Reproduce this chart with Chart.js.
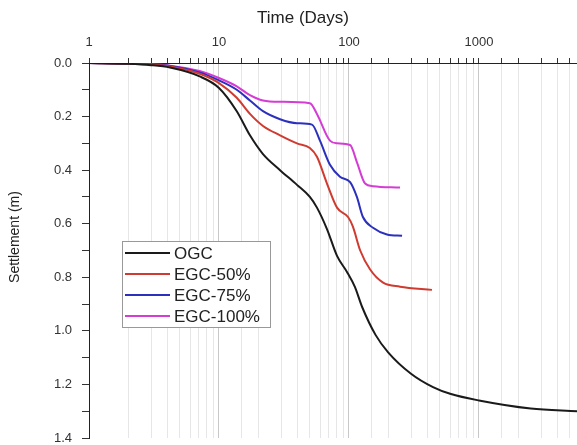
<!DOCTYPE html>
<html>
<head>
<meta charset="utf-8">
<script src="https://cdn.jsdelivr.net/npm/chart.js@4.4.1/dist/chart.umd.min.js"></script>
<style>
  html, body { margin: 0; padding: 0; background: #fff; }
  #wrap { width: 577px; height: 445px; }
</style>
</head>
<body>
<div id="wrap"><canvas id="settleChart" width="577" height="445"></canvas></div>
<script>
// Series (time in days, settlement in m)
const seriesNames = ['OGC', 'EGC-50%', 'EGC-75%', 'EGC-100%'];

const ogcTime   = [1, 2, 3, 4.2, 7.1, 10, 13.7, 17.3, 21.8, 29.5, 39.8, 50, 56.7, 67.7, 80.9, 96.5, 111, 126, 160, 200, 300, 443, 600, 1000, 2500, 5675];
const ogcSettle = [0, 0.003, 0.008, 0.017, 0.05, 0.093, 0.18, 0.27, 0.34, 0.40, 0.455, 0.50, 0.54, 0.62, 0.72, 0.78, 0.836, 0.91, 1.015, 1.08, 1.16, 1.21, 1.235, 1.26, 1.29, 1.30];

const egc50Time   = [1, 2, 3, 4.2, 7.1, 10, 13.7, 17.3, 21.8, 29.5, 39.8, 50, 56.7, 67.7, 80.9, 98.3, 107, 122, 145, 183, 247, 435];
const egc50Settle = [0, 0.002, 0.006, 0.013, 0.04, 0.075, 0.13, 0.19, 0.235, 0.27, 0.30, 0.317, 0.35, 0.45, 0.54, 0.575, 0.61, 0.70, 0.77, 0.82, 0.835, 0.847];

const egc75Time   = [1, 2, 3, 4.2, 7.1, 10, 13.7, 17.3, 21.8, 29.5, 39.8, 51.9, 59.8, 71.4, 85.2, 102, 115, 128, 153, 196, 256];
const egc75Settle = [0, 0.002, 0.005, 0.011, 0.035, 0.065, 0.10, 0.14, 0.18, 0.21, 0.225, 0.23, 0.29, 0.38, 0.425, 0.445, 0.50, 0.575, 0.615, 0.64, 0.645];

const egc100Time   = [1, 2, 3, 4.2, 7.1, 10, 13.7, 17.3, 21.8, 29.5, 50, 56.7, 71.4, 80.9, 102, 115, 133, 153, 247];
const egc100Settle = [0, 0.002, 0.005, 0.01, 0.03, 0.056, 0.087, 0.12, 0.14, 0.145, 0.15, 0.19, 0.29, 0.30, 0.306, 0.37, 0.45, 0.46, 0.465];

const lineColors = ['#1a1a1a', '#cf3b30', '#2b30bd', '#d43cd4'];

const FONT = "'Liberation Sans', Arial, sans-serif";

function pts(t, s) {
    return t.map((v, i) => ({ x: v, y: s[i] }));
}
const allTimes = [ogcTime, egc50Time, egc75Time, egc100Time];
const allSettle = [ogcSettle, egc50Settle, egc75Settle, egc100Settle];

const datasets = seriesNames.map((name, i) => ({
    label: name,
    data: pts(allTimes[i], allSettle[i]),
    borderColor: lineColors[i],
    backgroundColor: lineColors[i],
    borderWidth: 2,
    pointRadius: 0,
    cubicInterpolationMode: 'monotone',
    fill: false
}));

function isDecade(v) {
    const l = Math.log10(v);
    return Math.abs(l - Math.round(l)) < 1e-9;
}

// axis titles and the boxed legend, placed like the reference
const extras = {
    id: 'extras',
    afterDraw(chart) {
        const c = chart.ctx;
        c.save();
        c.fillStyle = '#222';
        c.font = '17px ' + FONT;
        c.textAlign = 'center';
        c.textBaseline = 'middle';
        c.fillText('Time (Days)', 303, 18);

        c.save();
        c.translate(15, 237);
        c.rotate(-Math.PI / 2);
        c.font = '14px ' + FONT;
        c.fillText('Settlement (m)', 0, 0);
        c.restore();

        // legend
        c.fillStyle = '#fff';
        c.fillRect(122, 241, 148, 86);
        c.strokeStyle = '#999';
        c.lineWidth = 1;
        c.strokeRect(122.5, 241.5, 148, 86);
        c.font = '17px ' + FONT;
        c.textAlign = 'left';
        seriesNames.forEach((name, i) => {
            const y = 253 + i * 21;
            c.strokeStyle = lineColors[i];
            c.lineWidth = 2;
            c.beginPath();
            c.moveTo(125, y);
            c.lineTo(170, y);
            c.stroke();
            c.fillStyle = '#222';
            c.fillText(name, 174, y + 1);
        });
        c.restore();
    }
};

const ctx = document.getElementById('settleChart').getContext('2d');
const settleChart = new Chart(ctx, {
    type: 'line',
    data: { datasets: datasets },
    options: {
        responsive: false,
        animation: false,
        layout: { padding: { left: 0, right: 0, top: 0, bottom: 7 } },
        scales: {
            x: {
                type: 'logarithmic',
                position: 'top',
                min: 1,
                max: 5675,
                afterFit(s) { s.height = 63; s.paddingLeft = 0; s.paddingRight = 0; },
                border: { color: '#222', width: 1 },
                grid: {
                    drawOnChartArea: true,
                    color: (c) => (c.tick && isDecade(c.tick.value)) ? '#c8c8c8' : '#e6e6e6',
                    tickColor: '#333',
                    tickLength: 5
                },
                ticks: {
                    autoSkip: false,
                    maxRotation: 0,
                    padding: 8,
                    color: '#333',
                    font: { family: FONT, size: 13 },
                    callback: (v) => isDecade(v) ? String(Math.round(v)) : ''
                },
                title: { display: false }
            },
            y: {
                reverse: true,
                min: 0,
                max: 1.4,
                afterFit(s) { s.width = 89; s.paddingTop = 0; s.paddingBottom = 0; },
                border: { color: '#222', width: 1 },
                grid: {
                    drawOnChartArea: false,
                    tickColor: '#333',
                    tickLength: 7
                },
                ticks: {
                    stepSize: 0.1,
                    padding: 10,
                    color: '#333',
                    font: { family: FONT, size: 13 },
                    callback: (v) => (Math.round(v * 10) % 2 === 0) ? v.toFixed(1) : ''
                },
                title: { display: false }
            }
        },
        plugins: {
            legend: { display: false },
            tooltip: { enabled: false }
        }
    },
    plugins: [extras]
});
</script>
</body>
</html>
